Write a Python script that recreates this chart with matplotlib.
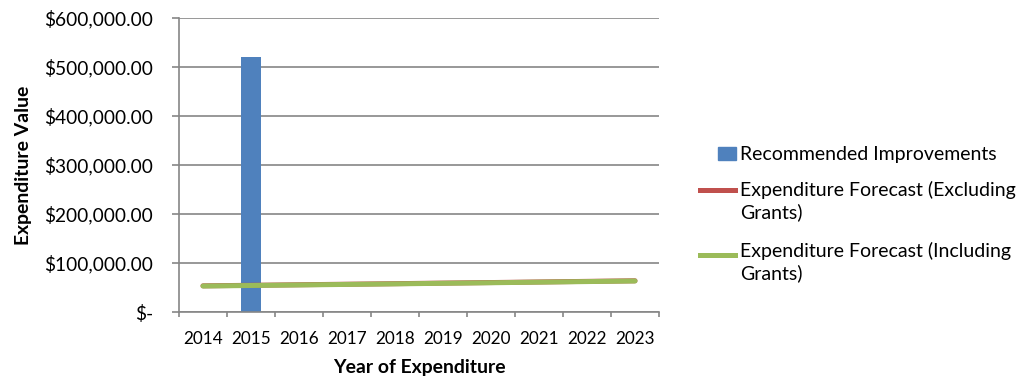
import matplotlib
matplotlib.use("Agg")
import matplotlib.pyplot as plt
from matplotlib.lines import Line2D
from matplotlib.patches import Rectangle
from matplotlib.ticker import FuncFormatter, FixedLocator

years = ["2014", "2015", "2016", "2017", "2018", "2019", "2020", "2021", "2022", "2023"]
recommended = [0, 520000, 0, 0, 0, 0, 0, 0, 0, 0]
forecast_excl = [53400, 54500, 55600, 56700, 57800, 59000, 60100, 61300, 62500, 63700]
forecast_incl = [53000, 54100, 55200, 56300, 57400, 58600, 59700, 60900, 62100, 63300]

FONT = "Lato"
plt.rcParams['font.family'] = [FONT, 'DejaVu Sans']

fig = plt.figure(figsize=(10.2, 3.84), dpi=100)
renderer = fig.canvas.get_renderer()


def fit_size(s, target_px, weight="normal"):
    t = fig.text(0, 0, s, fontsize=10, fontweight=weight)
    w = t.get_window_extent(renderer).width
    t.remove()
    return 10 * target_px / w


fs_tick = fit_size("$600,000.00", 108)
fs_xtick = fit_size("2014", 40)
fs_label = fit_size("Year of Expenditure", 173, "bold")
fs_leg = fit_size("Expenditure Forecast (Excluding", 276)

ax = fig.add_axes([179/1020, 1-312/384, 480/1020, 294/384])

x = list(range(len(years)))
gray = "#868686"
ax.bar(x, recommended, width=0.42, color="#4F81BD", zorder=2)
ax.plot(x, forecast_excl, color="#C0504D", lw=3.6, solid_capstyle="round", zorder=3)
ax.plot(x, forecast_incl, color="#9BBB59", lw=3.6, solid_capstyle="round", zorder=4)

ax.set_xlim(-0.5, len(years) - 0.5)
ax.set_ylim(0, 600000)
ax.set_yticks(range(0, 600001, 100000))
ax.yaxis.set_major_formatter(FuncFormatter(lambda v, p: "$-" if v == 0 else f"${v:,.2f}"))
ax.grid(axis="y", color=gray, lw=1.2, zorder=0)
ax.set_axisbelow(True)

ax.set_xticks(x)
ax.set_xticklabels(years)
ax.xaxis.set_minor_locator(FixedLocator([i - 0.5 for i in range(len(years) + 1)]))
ax.tick_params(axis="x", which="major", length=0, pad=14, labelsize=fs_xtick)
ax.tick_params(axis="x", which="minor", length=3.6, color=gray, width=1.2)
ax.tick_params(axis="y", length=5, color=gray, width=1.2, pad=13.7, labelsize=fs_tick)

for s in ["top", "right"]:
    ax.spines[s].set_visible(False)
for s in ["left", "bottom"]:
    ax.spines[s].set_color(gray)
    ax.spines[s].set_linewidth(1.2)


def fx(px):
    return px / 1020


def fy(py):
    return 1 - py / 384


fig.text(fx(333 + 86), fy(368), "Year of Expenditure", fontsize=fs_label, fontweight="bold",
         ha="center", va="center")
fig.text(fx(24), fy(165), "Expenditure Value", fontsize=fs_label, fontweight="bold",
         ha="center", va="center", rotation=90)

# Legend (Excel-style, entries aligned on their first text line)
fig.patches.append(Rectangle((fx(718), fy(160)), 18/1020, 13/384, transform=fig.transFigure,
                             color="#4F81BD", figure=fig))
fig.text(fx(740), fy(154), "Recommended Improvements", fontsize=fs_leg, va="center", ha="left")
fig.lines.append(Line2D([fx(700), fx(735)], [fy(190), fy(190)], transform=fig.transFigure,
                        color="#C0504D", lw=3.6, figure=fig))
fig.text(fx(740), fy(201), "Expenditure Forecast (Excluding\nGrants)", fontsize=fs_leg,
         va="center", ha="left", linespacing=1.3)
fig.lines.append(Line2D([fx(700), fx(735)], [fy(255), fy(255)], transform=fig.transFigure,
                        color="#9BBB59", lw=3.6, figure=fig))
fig.text(fx(740), fy(262), "Expenditure Forecast (Including\nGrants)", fontsize=fs_leg,
         va="center", ha="left", linespacing=1.3)

fig.savefig("out.png", dpi=100)
